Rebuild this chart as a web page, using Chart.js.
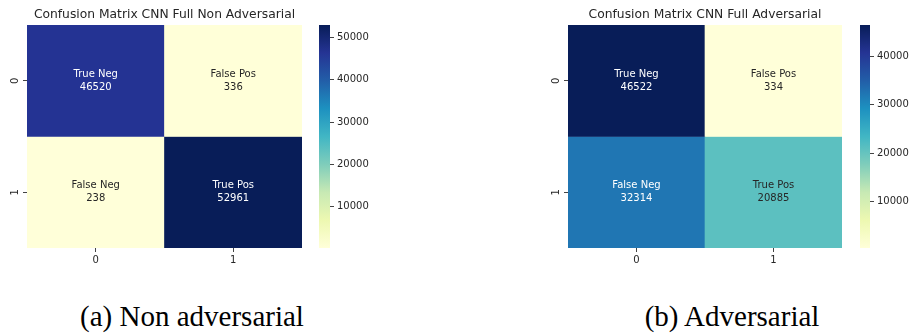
<!doctype html>
<html lang="en">
<head>
<meta charset="utf-8">
<title>Confusion Matrix CNN Full</title>
<style>
  * { margin: 0; padding: 0; }
  body { width: 910px; height: 333px; background: #fff; position: relative; overflow: hidden; }
  canvas { position: absolute; top: 0; }
  .caption {
    position: absolute; top: 302px; line-height: 28px;
    font-family: 'Liberation Serif', serif; font-size: 29px; color: #000;
    white-space: nowrap; transform: translateX(-50%);
  }
</style>
</head>
<body>
  <canvas id="hmA" width="329" height="270" style="left:0px"></canvas>
  <canvas id="cbA" width="80" height="270" style="left:310px"></canvas>
  <canvas id="hmB" width="328" height="270" style="left:541px"></canvas>
  <canvas id="cbB" width="59" height="270" style="left:851px"></canvas>
  <div class="caption" style="left:192px">(a) Non adversarial</div>
  <div class="caption" style="left:732px">(b) Adversarial</div>

<script src="https://cdn.jsdelivr.net/npm/chart.js"></script>
<script>
// data
const xLabels = ['0', '1'];
const yLabels = ['0', '1'];
const cellNames = [['True Neg', 'False Pos'], ['False Neg', 'True Pos']];
const nonAdvValues = [[46520, 336], [238, 52961]];
const advValues = [[46522, 334], [32314, 20885]];
const nonAdvTicks = [10000, 20000, 30000, 40000, 50000];
const advTicks = [10000, 20000, 30000, 40000];

// YlGnBu
const palette = ['#ffffd9', '#edf8b1', '#c7e9b4', '#7fcdbb', '#41b6c4', '#1d91c0', '#225ea8', '#253494', '#081d58'];
const rgbs = palette.map(h => [1, 3, 5].map(i => parseInt(h.substr(i, 2), 16)));

function colorAt(t) {
  t = Math.max(0, Math.min(1, t));
  const p = t * (rgbs.length - 1);
  const i = Math.min(Math.floor(p), rgbs.length - 2);
  const f = p - i;
  return rgbs[i].map((c, k) => Math.round(c + (rgbs[i + 1][k] - c) * f));
}
function cssColor(rgb) { return 'rgb(' + rgb.join(',') + ')'; }
function textColor(rgb) {
  const lin = rgb.map(c => { c /= 255; return c <= 0.03928 ? c / 12.92 : Math.pow((c + 0.055) / 1.055, 2.4); });
  const lum = 0.2126 * lin[0] + 0.7152 * lin[1] + 0.0722 * lin[2];
  return lum > 0.408 ? '#262626' : '#ffffff';
}

const tickFont = { family: "'DejaVu Sans', sans-serif", size: 10 };
const tickColor = '#262626';

// write the labels in the middle of each cell
const cellText = {
  id: 'cellText',
  afterDatasetsDraw(chart, args, opts) {
    const ctx = chart.ctx;
    ctx.save();
    ctx.font = "10px 'DejaVu Sans', sans-serif";
    ctx.textAlign = 'center';
    ctx.textBaseline = 'middle';
    chart.data.datasets.forEach((ds, r) => {
      chart.getDatasetMeta(r).data.forEach((el, c) => {
        const cy = (el.y + el.base) / 2;
        ctx.fillStyle = textColor(colorAt((opts.values[r][c] - opts.vmin) / (opts.vmax - opts.vmin)));
        ctx.fillText(cellNames[r][c], el.x, cy - 6.5);
        ctx.fillText(String(opts.values[r][c]), el.x, cy + 6.5);
      });
    });
    ctx.restore();
  }
};

function heatmap(id, values, title) {
  const flat = values.flat();
  const vmin = Math.min(...flat), vmax = Math.max(...flat);
  const datasets = yLabels.map((row, r) => ({
    label: 'row ' + row,
    data: xLabels.map(() => [r, r + 1]),
    backgroundColor: values[r].map(v => cssColor(colorAt((v - vmin) / (vmax - vmin)))),
    borderWidth: 0,
    grouped: false,
    barPercentage: 1,
    categoryPercentage: 1
  }));
  return new Chart(document.getElementById(id), {
    type: 'bar',
    data: { labels: xLabels, datasets },
    options: {
      responsive: false,
      animation: false,
      devicePixelRatio: 1,
      layout: { padding: 0 },
      plugins: {
        legend: { display: false },
        tooltip: { enabled: false },
        title: {
          display: true, text: title, color: tickColor,
          font: { family: "'DejaVu Sans', sans-serif", size: 12.3, weight: 'normal', lineHeight: '14px' },
          padding: { top: 8, bottom: 3 }
        },
        cellText: { values, vmin, vmax }
      },
      scales: {
        x: {
          type: 'category',
          offset: true,
          border: { display: false },
          grid: { offset: false, drawOnChartArea: false, tickLength: 4, color: '#444' },
          ticks: { color: tickColor, font: tickFont, padding: 2 },
          afterFit(s) { s.height = 22; }
        },
        y: {
          type: 'linear',
          min: 0, max: 2,
          reverse: true,
          border: { display: false },
          grid: { drawOnChartArea: false, tickLength: 4, color: '#444' },
          afterBuildTicks(s) { s.ticks = yLabels.map((l, i) => ({ value: i + 0.5 })); },
          ticks: {
            color: tickColor, font: tickFont, padding: 4,
            minRotation: 90, maxRotation: 90, crossAlign: 'center',
            callback: (v, i) => yLabels[i]
          },
          afterFit(s) { s.width = 27; }
        },
        // empty right-hand axis so the title stays centred over the cells
        spacer: {
          type: 'linear',
          position: 'right',
          min: 0, max: 1,
          border: { display: false },
          grid: { display: false },
          ticks: { display: false },
          afterFit(s) { s.width = 27; }
        }
      }
    },
    plugins: [cellText]
  });
}

function colorbar(id, values, ticks, padLeft, axisWidth) {
  const flat = values.flat();
  const vmin = Math.min(...flat), vmax = Math.max(...flat);
  return new Chart(document.getElementById(id), {
    type: 'bar',
    data: {
      labels: ['cbar'],
      datasets: [{
        data: [[vmin, vmax]],
        borderWidth: 0,
        barPercentage: 1,
        categoryPercentage: 1,
        backgroundColor(ctx) {
          const a = ctx.chart.chartArea;
          if (!a) return 'transparent';
          const g = ctx.chart.ctx.createLinearGradient(0, a.bottom, 0, a.top);
          palette.forEach((c, i) => g.addColorStop(i / (palette.length - 1), c));
          return g;
        }
      }]
    },
    options: {
      responsive: false,
      animation: false,
      devicePixelRatio: 1,
      layout: { padding: { left: padLeft, right: 0, top: 25, bottom: 22 } },
      plugins: { legend: { display: false }, tooltip: { enabled: false } },
      scales: {
        x: { display: false },
        y: {
          position: 'right',
          min: vmin, max: vmax,
          border: { display: false },
          grid: { drawOnChartArea: false, tickLength: 4, color: '#444' },
          afterBuildTicks(s) { s.ticks = ticks.map(v => ({ value: v })); },
          ticks: { color: tickColor, font: tickFont, padding: 3, callback: v => String(v) },
          afterFit(s) { s.width = axisWidth; }
        }
      }
    }
  });
}

heatmap('hmA', nonAdvValues, 'Confusion Matrix CNN Full Non Adversarial');
colorbar('cbA', nonAdvValues, nonAdvTicks, 9, 60);
heatmap('hmB', advValues, 'Confusion Matrix CNN Full Adversarial');
colorbar('cbB', advValues, advTicks, 9, 40);
</script>
</body>
</html>
